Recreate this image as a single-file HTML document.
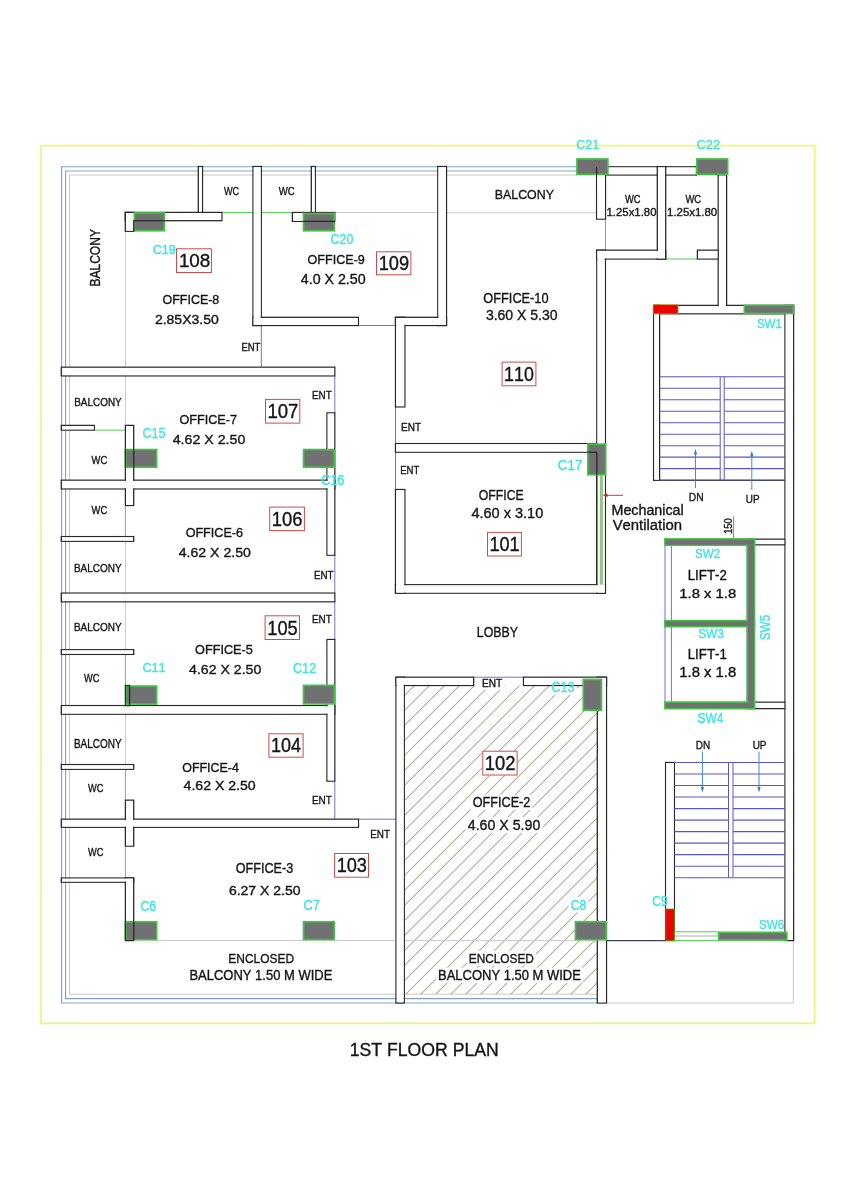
<!DOCTYPE html>
<html><head><meta charset="utf-8"><title>1st Floor Plan</title><style>html,body{margin:0;padding:0;background:#fff;width:849px;height:1200px;overflow:hidden;}body{position:relative;font-family:"Liberation Sans",sans-serif;}</style></head><body>
<div style="position:absolute;left:0;top:0;width:849px;height:1200px;will-change:transform">
<svg width="849" height="1200" viewBox="0 0 849 1200" style="display:block">
<rect x="0" y="0" width="849" height="1200" fill="#ffffff"/>
<rect x="41.0" y="145.6" width="773.7" height="877.8" fill="none" stroke="#eef57f" stroke-width="1.8" />
<polyline points="576.4,166.7 61.6,166.7 61.6,1003.0 597.3,1003.0" stroke="#88a3c2" stroke-width="1.15" fill="none"/>
<polyline points="576.4,171.0 65.6,171.0 65.6,998.6 597.3,998.6" stroke="#88a3c2" stroke-width="1.15" fill="none"/>
<polyline points="576.4,175.0 69.5,175.0 69.5,994.2 597.3,994.2" stroke="#c9c9c9" stroke-width="1.0" fill="none"/>
<polyline points="606.5,1003.0 793.3,1003.0 793.3,940.6" stroke="#c9c9c9" stroke-width="1.0" fill="none"/>
<defs><clipPath id="o2"><rect x="404.3" y="685.5" width="193" height="308.7"/></clipPath></defs>
<g clip-path="url(#o2)">
<line x1="100.0" y1="1000" x2="420.0" y2="680" stroke="#b7aa96" stroke-width="1.05" />
<line x1="115.0" y1="1000" x2="435.0" y2="680" stroke="#b7aa96" stroke-width="1.05" />
<line x1="130.0" y1="1000" x2="450.0" y2="680" stroke="#b7aa96" stroke-width="1.05" />
<line x1="145.0" y1="1000" x2="465.0" y2="680" stroke="#b7aa96" stroke-width="1.05" />
<line x1="160.0" y1="1000" x2="480.0" y2="680" stroke="#b7aa96" stroke-width="1.05" />
<line x1="175.0" y1="1000" x2="495.0" y2="680" stroke="#b7aa96" stroke-width="1.05" />
<line x1="190.0" y1="1000" x2="510.0" y2="680" stroke="#b7aa96" stroke-width="1.05" />
<line x1="205.0" y1="1000" x2="525.0" y2="680" stroke="#b7aa96" stroke-width="1.05" />
<line x1="220.0" y1="1000" x2="540.0" y2="680" stroke="#b7aa96" stroke-width="1.05" />
<line x1="235.0" y1="1000" x2="555.0" y2="680" stroke="#b7aa96" stroke-width="1.05" />
<line x1="250.0" y1="1000" x2="570.0" y2="680" stroke="#b7aa96" stroke-width="1.05" />
<line x1="265.0" y1="1000" x2="585.0" y2="680" stroke="#b7aa96" stroke-width="1.05" />
<line x1="280.0" y1="1000" x2="600.0" y2="680" stroke="#b7aa96" stroke-width="1.05" />
<line x1="295.0" y1="1000" x2="615.0" y2="680" stroke="#b7aa96" stroke-width="1.05" />
<line x1="310.0" y1="1000" x2="630.0" y2="680" stroke="#b7aa96" stroke-width="1.05" />
<line x1="325.0" y1="1000" x2="645.0" y2="680" stroke="#b7aa96" stroke-width="1.05" />
<line x1="340.0" y1="1000" x2="660.0" y2="680" stroke="#b7aa96" stroke-width="1.05" />
<line x1="355.0" y1="1000" x2="675.0" y2="680" stroke="#b7aa96" stroke-width="1.05" />
<line x1="370.0" y1="1000" x2="690.0" y2="680" stroke="#b7aa96" stroke-width="1.05" />
<line x1="385.0" y1="1000" x2="705.0" y2="680" stroke="#b7aa96" stroke-width="1.05" />
<line x1="400.0" y1="1000" x2="720.0" y2="680" stroke="#b7aa96" stroke-width="1.05" />
<line x1="415.0" y1="1000" x2="735.0" y2="680" stroke="#b7aa96" stroke-width="1.05" />
<line x1="430.0" y1="1000" x2="750.0" y2="680" stroke="#b7aa96" stroke-width="1.05" />
<line x1="445.0" y1="1000" x2="765.0" y2="680" stroke="#b7aa96" stroke-width="1.05" />
<line x1="460.0" y1="1000" x2="780.0" y2="680" stroke="#b7aa96" stroke-width="1.05" />
<line x1="475.0" y1="1000" x2="795.0" y2="680" stroke="#b7aa96" stroke-width="1.05" />
<line x1="490.0" y1="1000" x2="810.0" y2="680" stroke="#b7aa96" stroke-width="1.05" />
<line x1="505.0" y1="1000" x2="825.0" y2="680" stroke="#b7aa96" stroke-width="1.05" />
<line x1="520.0" y1="1000" x2="840.0" y2="680" stroke="#b7aa96" stroke-width="1.05" />
<line x1="535.0" y1="1000" x2="855.0" y2="680" stroke="#b7aa96" stroke-width="1.05" />
<line x1="550.0" y1="1000" x2="870.0" y2="680" stroke="#b7aa96" stroke-width="1.05" />
<line x1="565.0" y1="1000" x2="885.0" y2="680" stroke="#b7aa96" stroke-width="1.05" />
<line x1="580.0" y1="1000" x2="900.0" y2="680" stroke="#b7aa96" stroke-width="1.05" />
<line x1="595.0" y1="1000" x2="915.0" y2="680" stroke="#b7aa96" stroke-width="1.05" />
<line x1="85.0" y1="1000" x2="405.0" y2="680" stroke="#b7aa96" stroke-width="1.05" />
<line x1="70.0" y1="1000" x2="390.0" y2="680" stroke="#b7aa96" stroke-width="1.05" />
<rect x="480.0" y="677.3" width="24.6" height="12.8" fill="#ffffff" stroke="none" stroke-width="1.0" />
<rect x="470.6" y="794.8" width="61.8" height="15.2" fill="#ffffff" stroke="none" stroke-width="1.0" />
<rect x="465.4" y="817.2" width="77.1" height="15.9" fill="#ffffff" stroke="none" stroke-width="1.0" />
<rect x="467.0" y="950.8" width="69.0" height="14.9" fill="#ffffff" stroke="none" stroke-width="1.0" />
<rect x="436.4" y="967.7" width="146.7" height="15.2" fill="#ffffff" stroke="none" stroke-width="1.0" />
<rect x="549.5" y="678.5" width="27.2" height="16.3" fill="#ffffff" stroke="none" stroke-width="1.0" />
<rect x="568.6" y="896.8" width="19.7" height="15.7" fill="#ffffff" stroke="none" stroke-width="1.0" />
<rect x="482.3" y="750.7" width="35.3" height="24.8" fill="#ffffff" stroke="none" stroke-width="1.0" />
</g>
<line x1="334.8" y1="212.5" x2="437.8" y2="212.5" stroke="#c9c9c9" stroke-width="1.0" />
<line x1="446.5" y1="212.8" x2="596.6" y2="212.8" stroke="#c9c9c9" stroke-width="1.0" />
<line x1="221.9" y1="212.6" x2="253.0" y2="212.6" stroke="#4fcf4f" stroke-width="1.0" />
<line x1="261.3" y1="212.6" x2="292.4" y2="212.6" stroke="#4fcf4f" stroke-width="1.0" />
<line x1="125.4" y1="231.3" x2="125.4" y2="425.4" stroke="#c9c9c9" stroke-width="1.0" />
<line x1="125.4" y1="541.3" x2="125.4" y2="649.7" stroke="#c9c9c9" stroke-width="1.0" />
<line x1="125.4" y1="714.2" x2="125.4" y2="764.6" stroke="#c9c9c9" stroke-width="1.0" />
<line x1="125.4" y1="505.5" x2="125.4" y2="536.6" stroke="#4fcf4f" stroke-width="1.0" />
<line x1="125.4" y1="654.4" x2="125.4" y2="685.5" stroke="#4fcf4f" stroke-width="1.0" />
<line x1="125.4" y1="769.3" x2="125.4" y2="800.2" stroke="#4fcf4f" stroke-width="1.0" />
<line x1="125.4" y1="846.1" x2="125.4" y2="878.0" stroke="#4fcf4f" stroke-width="1.0" />
<line x1="94.3" y1="430.1" x2="125.4" y2="430.1" stroke="#4fcf4f" stroke-width="1.0" />
<line x1="605.5" y1="219.1" x2="605.5" y2="250.2" stroke="#4fcf4f" stroke-width="1.0" />
<line x1="665.7" y1="259.0" x2="697.4" y2="259.0" stroke="#4fcf4f" stroke-width="1.0" />
<line x1="261.3" y1="325.5" x2="261.3" y2="367.2" stroke="#7474cc" stroke-width="1.0" />
<line x1="358.4" y1="325.5" x2="395.5" y2="325.5" stroke="#7474cc" stroke-width="1.0" />
<line x1="395.5" y1="406.9" x2="395.5" y2="443.6" stroke="#7474cc" stroke-width="1.0" />
<line x1="395.5" y1="452.2" x2="395.5" y2="489.5" stroke="#7474cc" stroke-width="1.0" />
<line x1="334.8" y1="375.9" x2="334.8" y2="412.9" stroke="#7474cc" stroke-width="1.0" />
<line x1="334.8" y1="555.2" x2="334.8" y2="593.1" stroke="#7474cc" stroke-width="1.0" />
<line x1="334.8" y1="601.8" x2="334.8" y2="639.5" stroke="#7474cc" stroke-width="1.0" />
<line x1="334.8" y1="781.1" x2="334.8" y2="819.2" stroke="#7474cc" stroke-width="1.0" />
<line x1="358.5" y1="819.2" x2="396.0" y2="819.2" stroke="#7474cc" stroke-width="1.0" />
<line x1="473.6" y1="677.2" x2="523.5" y2="677.2" stroke="#7474cc" stroke-width="1.0" />
<line x1="157.2" y1="940.6" x2="303.0" y2="940.6" stroke="#c9c9c9" stroke-width="1.0" />
<line x1="334.8" y1="940.6" x2="396.0" y2="940.6" stroke="#c9c9c9" stroke-width="1.0" />
<line x1="404.3" y1="940.6" x2="574.9" y2="940.6" stroke="#c9c9c9" stroke-width="1.0" />
<line x1="606.7" y1="940.6" x2="665.6" y2="940.6" stroke="#3c3c64" stroke-width="1.1" />
<rect x="125.3" y="212.4" width="96.6" height="8.3" fill="none" stroke="#2a2a2a" stroke-width="1.3" />
<rect x="125.3" y="212.4" width="8.5" height="18.9" fill="none" stroke="#2a2a2a" stroke-width="1.3" />
<rect x="198.3" y="166.5" width="4.2" height="45.9" fill="none" stroke="#2a2a2a" stroke-width="1.3" />
<rect x="253.0" y="166.5" width="8.3" height="159.0" fill="none" stroke="#2a2a2a" stroke-width="1.3" />
<rect x="253.0" y="317.3" width="105.4" height="8.2" fill="none" stroke="#2a2a2a" stroke-width="1.3" />
<rect x="311.3" y="166.5" width="4.0" height="46.0" fill="none" stroke="#2a2a2a" stroke-width="1.3" />
<rect x="292.4" y="212.5" width="42.4" height="8.9" fill="none" stroke="#2a2a2a" stroke-width="1.3" />
<rect x="437.8" y="166.5" width="8.7" height="159.0" fill="none" stroke="#2a2a2a" stroke-width="1.3" />
<rect x="395.5" y="317.3" width="51.0" height="8.2" fill="none" stroke="#2a2a2a" stroke-width="1.3" />
<rect x="395.5" y="317.3" width="9.4" height="89.6" fill="none" stroke="#2a2a2a" stroke-width="1.3" />
<rect x="395.5" y="443.6" width="209.9" height="8.6" fill="none" stroke="#2a2a2a" stroke-width="1.3" />
<rect x="596.8" y="250.2" width="8.6" height="343.0" fill="none" stroke="#2a2a2a" stroke-width="1.3" />
<rect x="395.5" y="489.5" width="9.4" height="103.7" fill="none" stroke="#2a2a2a" stroke-width="1.3" />
<rect x="395.5" y="584.7" width="209.9" height="8.5" fill="none" stroke="#2a2a2a" stroke-width="1.3" />
<rect x="605.4" y="166.8" width="90.9" height="8.2" fill="none" stroke="#2a2a2a" stroke-width="1.3" />
<rect x="596.6" y="166.8" width="8.9" height="52.3" fill="none" stroke="#2a2a2a" stroke-width="1.3" />
<rect x="596.8" y="250.2" width="68.9" height="8.8" fill="none" stroke="#2a2a2a" stroke-width="1.3" />
<rect x="657.3" y="166.8" width="8.4" height="92.2" fill="none" stroke="#2a2a2a" stroke-width="1.3" />
<rect x="697.4" y="250.2" width="20.8" height="8.8" fill="none" stroke="#2a2a2a" stroke-width="1.3" />
<rect x="718.2" y="175.0" width="8.4" height="135.0" fill="none" stroke="#2a2a2a" stroke-width="1.3" />
<rect x="653.6" y="305.4" width="140.0" height="8.4" fill="none" stroke="#2a2a2a" stroke-width="1.3" />
<rect x="653.6" y="305.4" width="6.0" height="174.9" fill="none" stroke="#2a2a2a" stroke-width="1.3" />
<rect x="785.0" y="305.4" width="8.6" height="635.2" fill="none" stroke="#2a2a2a" stroke-width="1.3" />
<rect x="754.4" y="539.2" width="30.6" height="5.6" fill="none" stroke="#2a2a2a" stroke-width="1.3" />
<rect x="754.4" y="702.2" width="30.6" height="6.4" fill="none" stroke="#2a2a2a" stroke-width="1.3" />
<rect x="665.6" y="762.5" width="8.8" height="178.1" fill="none" stroke="#2a2a2a" stroke-width="1.3" />
<rect x="396.0" y="677.2" width="8.3" height="325.8" fill="none" stroke="#2a2a2a" stroke-width="1.3" />
<rect x="396.0" y="677.2" width="77.6" height="8.3" fill="none" stroke="#2a2a2a" stroke-width="1.3" />
<rect x="523.5" y="677.2" width="83.0" height="8.3" fill="none" stroke="#2a2a2a" stroke-width="1.3" />
<rect x="597.3" y="677.2" width="9.2" height="325.8" fill="none" stroke="#2a2a2a" stroke-width="1.3" />
<rect x="61.3" y="367.2" width="273.5" height="8.7" fill="none" stroke="#2a2a2a" stroke-width="1.3" />
<rect x="61.3" y="480.2" width="273.5" height="8.7" fill="none" stroke="#2a2a2a" stroke-width="1.3" />
<rect x="61.3" y="593.1" width="273.5" height="8.7" fill="none" stroke="#2a2a2a" stroke-width="1.3" />
<rect x="61.3" y="705.6" width="273.5" height="8.6" fill="none" stroke="#2a2a2a" stroke-width="1.3" />
<rect x="61.3" y="819.2" width="297.2" height="8.1" fill="none" stroke="#2a2a2a" stroke-width="1.3" />
<rect x="327.0" y="412.9" width="7.8" height="142.3" fill="none" stroke="#2a2a2a" stroke-width="1.3" />
<rect x="327.0" y="639.5" width="7.8" height="141.6" fill="none" stroke="#2a2a2a" stroke-width="1.3" />
<rect x="61.3" y="425.4" width="33.0" height="4.7" fill="none" stroke="#2a2a2a" stroke-width="1.3" />
<rect x="125.4" y="425.4" width="8.3" height="80.1" fill="none" stroke="#2a2a2a" stroke-width="1.3" />
<rect x="61.3" y="536.6" width="72.4" height="4.7" fill="none" stroke="#2a2a2a" stroke-width="1.3" />
<rect x="61.3" y="649.7" width="72.4" height="4.7" fill="none" stroke="#2a2a2a" stroke-width="1.3" />
<rect x="61.3" y="764.6" width="72.4" height="4.7" fill="none" stroke="#2a2a2a" stroke-width="1.3" />
<rect x="125.4" y="800.2" width="8.3" height="45.9" fill="none" stroke="#2a2a2a" stroke-width="1.3" />
<rect x="61.3" y="878.0" width="72.4" height="4.2" fill="none" stroke="#2a2a2a" stroke-width="1.3" />
<rect x="125.4" y="878.0" width="8.3" height="62.5" fill="none" stroke="#2a2a2a" stroke-width="1.3" />
<rect x="126.0" y="213.1" width="95.2" height="6.9" fill="#ffffff" stroke="none" stroke-width="1.0" />
<rect x="126.0" y="213.1" width="7.1" height="17.5" fill="#ffffff" stroke="none" stroke-width="1.0" />
<rect x="199.0" y="167.2" width="2.8" height="44.5" fill="#ffffff" stroke="none" stroke-width="1.0" />
<rect x="253.7" y="167.2" width="6.9" height="157.6" fill="#ffffff" stroke="none" stroke-width="1.0" />
<rect x="253.7" y="318.0" width="104.0" height="6.8" fill="#ffffff" stroke="none" stroke-width="1.0" />
<rect x="312.0" y="167.2" width="2.6" height="44.6" fill="#ffffff" stroke="none" stroke-width="1.0" />
<rect x="293.1" y="213.2" width="41.0" height="7.5" fill="#ffffff" stroke="none" stroke-width="1.0" />
<rect x="438.5" y="167.2" width="7.3" height="157.6" fill="#ffffff" stroke="none" stroke-width="1.0" />
<rect x="396.2" y="318.0" width="49.6" height="6.8" fill="#ffffff" stroke="none" stroke-width="1.0" />
<rect x="396.2" y="318.0" width="8.0" height="88.2" fill="#ffffff" stroke="none" stroke-width="1.0" />
<rect x="396.2" y="444.3" width="208.5" height="7.2" fill="#ffffff" stroke="none" stroke-width="1.0" />
<rect x="597.5" y="250.9" width="7.2" height="341.6" fill="#ffffff" stroke="none" stroke-width="1.0" />
<rect x="396.2" y="490.2" width="8.0" height="102.3" fill="#ffffff" stroke="none" stroke-width="1.0" />
<rect x="396.2" y="585.4" width="208.5" height="7.1" fill="#ffffff" stroke="none" stroke-width="1.0" />
<rect x="606.1" y="167.5" width="89.5" height="6.8" fill="#ffffff" stroke="none" stroke-width="1.0" />
<rect x="597.3" y="167.5" width="7.5" height="50.9" fill="#ffffff" stroke="none" stroke-width="1.0" />
<rect x="597.5" y="250.9" width="67.5" height="7.4" fill="#ffffff" stroke="none" stroke-width="1.0" />
<rect x="658.0" y="167.5" width="7.0" height="90.8" fill="#ffffff" stroke="none" stroke-width="1.0" />
<rect x="698.1" y="250.9" width="19.4" height="7.4" fill="#ffffff" stroke="none" stroke-width="1.0" />
<rect x="718.9" y="175.7" width="7.0" height="133.6" fill="#ffffff" stroke="none" stroke-width="1.0" />
<rect x="654.3" y="306.1" width="138.6" height="7.0" fill="#ffffff" stroke="none" stroke-width="1.0" />
<rect x="654.3" y="306.1" width="4.6" height="173.5" fill="#ffffff" stroke="none" stroke-width="1.0" />
<rect x="785.7" y="306.1" width="7.2" height="633.8" fill="#ffffff" stroke="none" stroke-width="1.0" />
<rect x="755.1" y="539.9" width="29.2" height="4.2" fill="#ffffff" stroke="none" stroke-width="1.0" />
<rect x="755.1" y="702.9" width="29.2" height="5.0" fill="#ffffff" stroke="none" stroke-width="1.0" />
<rect x="666.3" y="763.2" width="7.4" height="176.7" fill="#ffffff" stroke="none" stroke-width="1.0" />
<rect x="396.7" y="677.9" width="6.9" height="324.4" fill="#ffffff" stroke="none" stroke-width="1.0" />
<rect x="396.7" y="677.9" width="76.2" height="6.9" fill="#ffffff" stroke="none" stroke-width="1.0" />
<rect x="524.2" y="677.9" width="81.6" height="6.9" fill="#ffffff" stroke="none" stroke-width="1.0" />
<rect x="598.0" y="677.9" width="7.8" height="324.4" fill="#ffffff" stroke="none" stroke-width="1.0" />
<rect x="62.0" y="367.9" width="272.1" height="7.3" fill="#ffffff" stroke="none" stroke-width="1.0" />
<rect x="62.0" y="480.9" width="272.1" height="7.3" fill="#ffffff" stroke="none" stroke-width="1.0" />
<rect x="62.0" y="593.8" width="272.1" height="7.3" fill="#ffffff" stroke="none" stroke-width="1.0" />
<rect x="62.0" y="706.3" width="272.1" height="7.2" fill="#ffffff" stroke="none" stroke-width="1.0" />
<rect x="62.0" y="819.9" width="295.8" height="6.7" fill="#ffffff" stroke="none" stroke-width="1.0" />
<rect x="327.7" y="413.6" width="6.4" height="140.9" fill="#ffffff" stroke="none" stroke-width="1.0" />
<rect x="327.7" y="640.2" width="6.4" height="140.2" fill="#ffffff" stroke="none" stroke-width="1.0" />
<rect x="62.0" y="426.1" width="31.6" height="3.3" fill="#ffffff" stroke="none" stroke-width="1.0" />
<rect x="126.1" y="426.1" width="6.9" height="78.7" fill="#ffffff" stroke="none" stroke-width="1.0" />
<rect x="62.0" y="537.3" width="71.0" height="3.3" fill="#ffffff" stroke="none" stroke-width="1.0" />
<rect x="62.0" y="650.4" width="71.0" height="3.3" fill="#ffffff" stroke="none" stroke-width="1.0" />
<rect x="62.0" y="765.3" width="71.0" height="3.3" fill="#ffffff" stroke="none" stroke-width="1.0" />
<rect x="126.1" y="800.9" width="6.9" height="44.5" fill="#ffffff" stroke="none" stroke-width="1.0" />
<rect x="62.0" y="878.7" width="71.0" height="2.8" fill="#ffffff" stroke="none" stroke-width="1.0" />
<rect x="126.1" y="878.7" width="6.9" height="61.1" fill="#ffffff" stroke="none" stroke-width="1.0" />
<line x1="657.3" y1="166.8" x2="657.3" y2="175.0" stroke="#2a2a2a" stroke-width="1.3" />
<line x1="665.7" y1="166.8" x2="665.7" y2="175.0" stroke="#2a2a2a" stroke-width="1.3" />
<rect x="599.8" y="475.3" width="3.1" height="109.4" fill="#93c585" stroke="none" stroke-width="1.0" />
<line x1="596.8" y1="452.2" x2="596.8" y2="584.7" stroke="#2a2a2a" stroke-width="1.3" />
<line x1="603.5" y1="495.3" x2="623.0" y2="495.3" stroke="#d02020" stroke-width="0.9" />
<polygon points="603.2,495.3 607.5,493.6 607.5,497.0" fill="#d02020"/>
<line x1="659.6" y1="376.8" x2="785.0" y2="376.8" stroke="#5858c4" stroke-width="1.1" />
<line x1="659.6" y1="388.28" x2="720.2" y2="388.28" stroke="#5858c4" stroke-width="1.1" />
<line x1="724.2" y1="388.28" x2="785.0" y2="388.28" stroke="#5858c4" stroke-width="1.1" />
<line x1="659.6" y1="399.76" x2="720.2" y2="399.76" stroke="#5858c4" stroke-width="1.1" />
<line x1="724.2" y1="399.76" x2="785.0" y2="399.76" stroke="#5858c4" stroke-width="1.1" />
<line x1="659.6" y1="411.24" x2="720.2" y2="411.24" stroke="#5858c4" stroke-width="1.1" />
<line x1="724.2" y1="411.24" x2="785.0" y2="411.24" stroke="#5858c4" stroke-width="1.1" />
<line x1="659.6" y1="422.72" x2="720.2" y2="422.72" stroke="#5858c4" stroke-width="1.1" />
<line x1="724.2" y1="422.72" x2="785.0" y2="422.72" stroke="#5858c4" stroke-width="1.1" />
<line x1="659.6" y1="434.2" x2="720.2" y2="434.2" stroke="#5858c4" stroke-width="1.1" />
<line x1="724.2" y1="434.2" x2="785.0" y2="434.2" stroke="#5858c4" stroke-width="1.1" />
<line x1="659.6" y1="445.68" x2="720.2" y2="445.68" stroke="#5858c4" stroke-width="1.1" />
<line x1="724.2" y1="445.68" x2="785.0" y2="445.68" stroke="#5858c4" stroke-width="1.1" />
<line x1="659.6" y1="457.16" x2="720.2" y2="457.16" stroke="#5858c4" stroke-width="1.1" />
<line x1="724.2" y1="457.16" x2="785.0" y2="457.16" stroke="#5858c4" stroke-width="1.1" />
<line x1="659.6" y1="468.64" x2="720.2" y2="468.64" stroke="#5858c4" stroke-width="1.1" />
<line x1="724.2" y1="468.64" x2="785.0" y2="468.64" stroke="#5858c4" stroke-width="1.1" />
<line x1="659.6" y1="480.12" x2="785.0" y2="480.12" stroke="#5858c4" stroke-width="1.1" />
<line x1="720.2" y1="376.6" x2="720.2" y2="480.1" stroke="#5858c4" stroke-width="1.0" />
<line x1="724.2" y1="376.6" x2="724.2" y2="480.1" stroke="#5858c4" stroke-width="1.0" />
<line x1="659.6" y1="480.3" x2="785.0" y2="480.3" stroke="#2a2a2a" stroke-width="0.8" />
<line x1="695.5" y1="451.0" x2="695.5" y2="488.0" stroke="#2f7fd0" stroke-width="0.9" />
<polygon points="695.5,448.8 693.9,454.5 697.1,454.5" fill="#2f7fd0"/>
<line x1="751.8" y1="453.0" x2="751.8" y2="490.0" stroke="#2f7fd0" stroke-width="0.9" />
<polygon points="751.8,450.8 750.2,456.5 753.4,456.5" fill="#2f7fd0"/>
<line x1="674.4" y1="762.5" x2="785.0" y2="762.5" stroke="#5858c4" stroke-width="1.1" />
<line x1="674.4" y1="774.02" x2="728.5" y2="774.02" stroke="#5858c4" stroke-width="1.1" />
<line x1="733.0" y1="774.02" x2="785.0" y2="774.02" stroke="#5858c4" stroke-width="1.1" />
<line x1="674.4" y1="785.54" x2="728.5" y2="785.54" stroke="#5858c4" stroke-width="1.1" />
<line x1="733.0" y1="785.54" x2="785.0" y2="785.54" stroke="#5858c4" stroke-width="1.1" />
<line x1="674.4" y1="797.06" x2="728.5" y2="797.06" stroke="#5858c4" stroke-width="1.1" />
<line x1="733.0" y1="797.06" x2="785.0" y2="797.06" stroke="#5858c4" stroke-width="1.1" />
<line x1="674.4" y1="808.58" x2="728.5" y2="808.58" stroke="#5858c4" stroke-width="1.1" />
<line x1="733.0" y1="808.58" x2="785.0" y2="808.58" stroke="#5858c4" stroke-width="1.1" />
<line x1="674.4" y1="820.1" x2="728.5" y2="820.1" stroke="#5858c4" stroke-width="1.1" />
<line x1="733.0" y1="820.1" x2="785.0" y2="820.1" stroke="#5858c4" stroke-width="1.1" />
<line x1="674.4" y1="831.62" x2="728.5" y2="831.62" stroke="#5858c4" stroke-width="1.1" />
<line x1="733.0" y1="831.62" x2="785.0" y2="831.62" stroke="#5858c4" stroke-width="1.1" />
<line x1="674.4" y1="843.14" x2="728.5" y2="843.14" stroke="#5858c4" stroke-width="1.1" />
<line x1="733.0" y1="843.14" x2="785.0" y2="843.14" stroke="#5858c4" stroke-width="1.1" />
<line x1="674.4" y1="854.66" x2="728.5" y2="854.66" stroke="#5858c4" stroke-width="1.1" />
<line x1="733.0" y1="854.66" x2="785.0" y2="854.66" stroke="#5858c4" stroke-width="1.1" />
<line x1="674.4" y1="866.18" x2="728.5" y2="866.18" stroke="#5858c4" stroke-width="1.1" />
<line x1="733.0" y1="866.18" x2="785.0" y2="866.18" stroke="#5858c4" stroke-width="1.1" />
<line x1="674.4" y1="877.7" x2="785.0" y2="877.7" stroke="#5858c4" stroke-width="1.1" />
<line x1="728.5" y1="762.5" x2="728.5" y2="877.7" stroke="#5858c4" stroke-width="1.0" />
<line x1="733.0" y1="762.5" x2="733.0" y2="877.7" stroke="#5858c4" stroke-width="1.0" />
<line x1="702.4" y1="751.5" x2="702.4" y2="790.0" stroke="#2f7fd0" stroke-width="0.9" />
<polygon points="702.4,792.6 700.8,786.9 704.0,786.9" fill="#2f7fd0"/>
<line x1="759.0" y1="751.5" x2="759.0" y2="790.0" stroke="#2f7fd0" stroke-width="0.9" />
<polygon points="759.0,792.6 757.4,786.9 760.6,786.9" fill="#2f7fd0"/>
<line x1="665.0" y1="545.0" x2="665.0" y2="702.0" stroke="#7474cc" stroke-width="1.0" />
<line x1="671.4" y1="545.0" x2="671.4" y2="702.0" stroke="#7474cc" stroke-width="1.0" />
<rect x="664.6" y="538.6" width="90.2" height="7.0" fill="#717073" stroke="none" stroke-width="1.0" />
<rect x="746.8" y="538.6" width="8.0" height="170.4" fill="#717073" stroke="none" stroke-width="1.0" />
<rect x="664.6" y="620.3" width="90.2" height="6.7" fill="#717073" stroke="none" stroke-width="1.0" />
<rect x="664.6" y="701.8" width="90.2" height="7.2" fill="#717073" stroke="none" stroke-width="1.0" />
<rect x="664.9" y="538.9" width="89.6" height="6.4" fill="none" stroke="#44c444" stroke-width="1.6" />
<rect x="747.0999999999999" y="538.9" width="7.4" height="169.8" fill="none" stroke="#44c444" stroke-width="1.6" />
<rect x="664.9" y="620.5999999999999" width="89.6" height="6.1" fill="none" stroke="#44c444" stroke-width="1.6" />
<rect x="664.9" y="702.0999999999999" width="89.6" height="6.6" fill="none" stroke="#44c444" stroke-width="1.6" />
<rect x="665.75" y="539.75" width="87.9" height="4.7" fill="#717073" stroke="none" stroke-width="1.0" />
<rect x="747.95" y="539.75" width="5.7" height="168.1" fill="#717073" stroke="none" stroke-width="1.0" />
<rect x="665.75" y="621.45" width="87.9" height="4.4" fill="#717073" stroke="none" stroke-width="1.0" />
<rect x="665.75" y="702.95" width="87.9" height="4.9" fill="#717073" stroke="none" stroke-width="1.0" />
<line x1="733.6" y1="515.8" x2="733.6" y2="544.0" stroke="#8a7a5a" stroke-width="0.9" />
<rect x="674.4" y="931.8" width="43.9" height="8.8" fill="#ffffff" stroke="#4fcf4f" stroke-width="1.0" />
<line x1="674.4" y1="936.0" x2="718.3" y2="936.0" stroke="#8fb08a" stroke-width="0.9" />
<rect x="134.35" y="212.95" width="30.0" height="17.8" fill="#717073" stroke="#44c444" stroke-width="1.7" />
<rect x="303.55" y="213.55" width="30.7" height="17.2" fill="#717073" stroke="#44c444" stroke-width="1.7" />
<rect x="576.95" y="158.95" width="30.9" height="15.5" fill="#717073" stroke="#44c444" stroke-width="1.7" />
<rect x="696.75" y="158.95" width="30.9" height="15.5" fill="#717073" stroke="#44c444" stroke-width="1.7" />
<rect x="125.95" y="449.55" width="30.7" height="17.7" fill="#717073" stroke="#44c444" stroke-width="1.7" />
<rect x="303.55" y="449.55" width="30.7" height="17.7" fill="#717073" stroke="#44c444" stroke-width="1.7" />
<rect x="587.85" y="444.15" width="17.8" height="30.6" fill="#717073" stroke="#44c444" stroke-width="1.7" />
<rect x="125.95" y="686.05" width="30.7" height="18.0" fill="#717073" stroke="#44c444" stroke-width="1.7" />
<rect x="303.55" y="685.35" width="30.7" height="18.5" fill="#717073" stroke="#44c444" stroke-width="1.7" />
<rect x="583.25" y="679.45" width="18.2" height="30.9" fill="#717073" stroke="#44c444" stroke-width="1.7" />
<rect x="125.95" y="921.75" width="30.7" height="18.0" fill="#717073" stroke="#44c444" stroke-width="1.7" />
<rect x="303.55" y="921.75" width="30.7" height="18.0" fill="#717073" stroke="#44c444" stroke-width="1.7" />
<rect x="575.45" y="921.75" width="30.7" height="18.0" fill="#717073" stroke="#44c444" stroke-width="1.7" />
<rect x="744.35" y="305.35" width="49.1" height="8.1" fill="#717073" stroke="#44c444" stroke-width="1.7" />
<rect x="718.85" y="932.35" width="68.0" height="7.7" fill="#717073" stroke="#44c444" stroke-width="1.7" />
<rect x="653.6" y="304.8" width="24.4" height="9.1" fill="#ee0000" stroke="#d4a000" stroke-width="0.6" />
<rect x="665.8" y="909.0" width="8.5" height="31.6" fill="#ee0000" stroke="#6a9a00" stroke-width="0.8" />
<line x1="133.8" y1="220.7" x2="164.9" y2="220.7" stroke="#2a2a2a" stroke-width="1.3" />
<line x1="133.8" y1="220.7" x2="133.8" y2="231.3" stroke="#2a2a2a" stroke-width="1.3" />
<line x1="303.0" y1="221.4" x2="334.8" y2="221.4" stroke="#2a2a2a" stroke-width="1.3" />
<line x1="596.6" y1="166.8" x2="596.6" y2="175.0" stroke="#2a2a2a" stroke-width="1.3" />
<line x1="587.3" y1="452.2" x2="596.8" y2="452.2" stroke="#2a2a2a" stroke-width="1.3" />
<line x1="596.8" y1="452.2" x2="596.8" y2="475.3" stroke="#2a2a2a" stroke-width="1.3" />
<rect x="125.4" y="685.5" width="4.2" height="20.1" fill="none" stroke="#2a2a2a" stroke-width="1.3" />
<line x1="133.7" y1="921.2" x2="133.7" y2="940.5" stroke="#2a2a2a" stroke-width="1.3" />
<line x1="125.4" y1="921.2" x2="125.4" y2="940.5" stroke="#2a2a2a" stroke-width="1.3" />
<line x1="125.4" y1="940.5" x2="133.7" y2="940.5" stroke="#2a2a2a" stroke-width="1.3" />
<line x1="125.4" y1="449.0" x2="125.4" y2="467.8" stroke="#2a2a2a" stroke-width="1.3" />
<line x1="133.7" y1="449.0" x2="133.7" y2="467.8" stroke="#2a2a2a" stroke-width="1.3" />
<rect x="176.5" y="248.8" width="34.9" height="23.7" fill="none" stroke="#cc4c4c" stroke-width="1.0" />
<rect x="376.5" y="251.8" width="34.4" height="23.0" fill="none" stroke="#cc4c4c" stroke-width="1.0" />
<rect x="502.1" y="362.1" width="33.8" height="23.7" fill="none" stroke="#cc4c4c" stroke-width="1.0" />
<rect x="265.5" y="399.4" width="34.3" height="23.7" fill="none" stroke="#cc4c4c" stroke-width="1.0" />
<rect x="269.7" y="507.1" width="34.7" height="23.5" fill="none" stroke="#cc4c4c" stroke-width="1.0" />
<rect x="487.5" y="532.4" width="33.9" height="23.6" fill="none" stroke="#cc4c4c" stroke-width="1.0" />
<rect x="265.1" y="615.8" width="34.4" height="23.7" fill="none" stroke="#cc4c4c" stroke-width="1.0" />
<rect x="268.9" y="733.8" width="34.2" height="23.4" fill="none" stroke="#cc4c4c" stroke-width="1.0" />
<rect x="482.8" y="751.2" width="34.3" height="23.8" fill="none" stroke="#cc4c4c" stroke-width="1.0" />
<rect x="334.6" y="853.5" width="33.9" height="23.7" fill="none" stroke="#cc4c4c" stroke-width="1.0" />
<g font-family="Liberation Sans, sans-serif" stroke-width="0.35" style="font-kerning:none">
<text x="223.99" y="194.86" font-size="11.37" fill="#141414" stroke="#141414" textLength="15.14" lengthAdjust="spacingAndGlyphs">WC</text>
<text x="278.78" y="194.67" font-size="11.09" fill="#141414" stroke="#141414" textLength="15.96" lengthAdjust="spacingAndGlyphs">WC</text>
<text x="494.71" y="198.94" font-size="13.63" fill="#141414" stroke="#141414" textLength="59.24" lengthAdjust="spacingAndGlyphs">BALCONY</text>
<text x="624.88" y="202.57" font-size="10.80" fill="#141414" stroke="#141414" textLength="15.55" lengthAdjust="spacingAndGlyphs">WC</text>
<text x="606.56" y="216.07" font-size="10.95" fill="#141414" stroke="#141414" textLength="49.96" lengthAdjust="spacingAndGlyphs">1.25x1.80</text>
<text x="685.48" y="202.57" font-size="10.80" fill="#141414" stroke="#141414" textLength="15.65" lengthAdjust="spacingAndGlyphs">WC</text>
<text x="667.06" y="216.07" font-size="10.95" fill="#141414" stroke="#141414" textLength="50.17" lengthAdjust="spacingAndGlyphs">1.25x1.80</text>
<text transform="translate(100.14,286.56) rotate(-90)" x="0" y="0" font-size="13.77" fill="#141414" stroke="#141414" textLength="57.50" lengthAdjust="spacingAndGlyphs">BALCONY</text>
<text x="162.53" y="303.86" font-size="12.08" fill="#141414" stroke="#141414" textLength="56.78" lengthAdjust="spacingAndGlyphs">OFFICE-8</text>
<text x="154.92" y="323.55" font-size="12.50" fill="#141414" stroke="#141414" textLength="63.80" lengthAdjust="spacingAndGlyphs">2.85X3.50</text>
<text x="307.53" y="263.74" font-size="13.35" fill="#141414" stroke="#141414" textLength="57.34" lengthAdjust="spacingAndGlyphs">OFFICE-9</text>
<text x="300.80" y="284.24" font-size="14.05" fill="#141414" stroke="#141414" textLength="64.83" lengthAdjust="spacingAndGlyphs">4.0 X 2.50</text>
<text x="483.32" y="302.54" font-size="13.77" fill="#141414" stroke="#141414" textLength="65.25" lengthAdjust="spacingAndGlyphs">OFFICE-10</text>
<text x="485.89" y="319.63" font-size="14.62" fill="#141414" stroke="#141414" textLength="71.73" lengthAdjust="spacingAndGlyphs">3.60 X 5.30</text>
<text x="241.45" y="350.77" font-size="10.68" fill="#141414" stroke="#141414" textLength="18.94" lengthAdjust="spacingAndGlyphs">ENT</text>
<text x="74.21" y="405.77" font-size="11.09" fill="#141414" stroke="#141414" textLength="47.48" lengthAdjust="spacingAndGlyphs">BALCONY</text>
<text x="179.43" y="424.35" font-size="12.64" fill="#141414" stroke="#141414" textLength="57.48" lengthAdjust="spacingAndGlyphs">OFFICE-7</text>
<text x="172.70" y="444.14" font-size="13.49" fill="#141414" stroke="#141414" textLength="72.63" lengthAdjust="spacingAndGlyphs">4.62 X 2.50</text>
<text x="312.01" y="399.07" font-size="11.41" fill="#141414" stroke="#141414" textLength="19.79" lengthAdjust="spacingAndGlyphs">ENT</text>
<text x="401.10" y="430.88" font-size="10.83" fill="#141414" stroke="#141414" textLength="20.00" lengthAdjust="spacingAndGlyphs">ENT</text>
<text x="400.24" y="473.97" font-size="10.83" fill="#141414" stroke="#141414" textLength="19.16" lengthAdjust="spacingAndGlyphs">ENT</text>
<text x="91.58" y="463.77" font-size="10.52" fill="#141414" stroke="#141414" textLength="15.65" lengthAdjust="spacingAndGlyphs">WC</text>
<text x="91.58" y="513.68" font-size="10.10" fill="#141414" stroke="#141414" textLength="15.65" lengthAdjust="spacingAndGlyphs">WC</text>
<text x="185.63" y="537.15" font-size="12.64" fill="#141414" stroke="#141414" textLength="57.40" lengthAdjust="spacingAndGlyphs">OFFICE-6</text>
<text x="178.70" y="556.55" font-size="12.92" fill="#141414" stroke="#141414" textLength="72.23" lengthAdjust="spacingAndGlyphs">4.62 X 2.50</text>
<text x="73.90" y="572.36" font-size="11.79" fill="#141414" stroke="#141414" textLength="47.79" lengthAdjust="spacingAndGlyphs">BALCONY</text>
<text x="313.92" y="578.58" font-size="11.12" fill="#141414" stroke="#141414" textLength="19.58" lengthAdjust="spacingAndGlyphs">ENT</text>
<text x="73.90" y="631.26" font-size="11.79" fill="#141414" stroke="#141414" textLength="47.79" lengthAdjust="spacingAndGlyphs">BALCONY</text>
<text x="312.01" y="622.58" font-size="11.41" fill="#141414" stroke="#141414" textLength="19.79" lengthAdjust="spacingAndGlyphs">ENT</text>
<text x="195.02" y="653.95" font-size="12.64" fill="#141414" stroke="#141414" textLength="57.78" lengthAdjust="spacingAndGlyphs">OFFICE-5</text>
<text x="189.10" y="674.15" font-size="13.21" fill="#141414" stroke="#141414" textLength="72.23" lengthAdjust="spacingAndGlyphs">4.62 X 2.50</text>
<text x="84.08" y="682.17" font-size="10.80" fill="#141414" stroke="#141414" textLength="15.34" lengthAdjust="spacingAndGlyphs">WC</text>
<text x="73.90" y="748.26" font-size="12.08" fill="#141414" stroke="#141414" textLength="47.79" lengthAdjust="spacingAndGlyphs">BALCONY</text>
<text x="182.24" y="772.45" font-size="12.36" fill="#141414" stroke="#141414" textLength="56.70" lengthAdjust="spacingAndGlyphs">OFFICE-4</text>
<text x="183.60" y="790.15" font-size="12.64" fill="#141414" stroke="#141414" textLength="72.02" lengthAdjust="spacingAndGlyphs">4.62 X 2.50</text>
<text x="312.01" y="803.78" font-size="11.41" fill="#141414" stroke="#141414" textLength="19.79" lengthAdjust="spacingAndGlyphs">ENT</text>
<text x="88.08" y="791.87" font-size="11.09" fill="#141414" stroke="#141414" textLength="15.34" lengthAdjust="spacingAndGlyphs">WC</text>
<text x="88.08" y="855.97" font-size="11.09" fill="#141414" stroke="#141414" textLength="15.34" lengthAdjust="spacingAndGlyphs">WC</text>
<text x="370.21" y="837.98" font-size="10.83" fill="#141414" stroke="#141414" textLength="19.79" lengthAdjust="spacingAndGlyphs">ENT</text>
<text x="235.73" y="872.64" font-size="13.77" fill="#141414" stroke="#141414" textLength="57.50" lengthAdjust="spacingAndGlyphs">OFFICE-3</text>
<text x="228.91" y="895.05" font-size="12.92" fill="#141414" stroke="#141414" textLength="71.61" lengthAdjust="spacingAndGlyphs">6.27 X 2.50</text>
<text x="228.34" y="962.75" font-size="13.21" fill="#141414" stroke="#141414" textLength="65.80" lengthAdjust="spacingAndGlyphs">ENCLOSED</text>
<text x="189.46" y="979.74" font-size="13.77" fill="#141414" stroke="#141414" textLength="142.87" lengthAdjust="spacingAndGlyphs">BALCONY 1.50 M WIDE</text>
<text x="478.85" y="500.03" font-size="14.48" fill="#141414" stroke="#141414" textLength="44.86" lengthAdjust="spacingAndGlyphs">OFFICE</text>
<text x="471.39" y="518.43" font-size="14.62" fill="#141414" stroke="#141414" textLength="71.85" lengthAdjust="spacingAndGlyphs">4.60 x 3.10</text>
<text x="476.81" y="636.54" font-size="13.91" fill="#141414" stroke="#141414" textLength="41.13" lengthAdjust="spacingAndGlyphs">LOBBY</text>
<text x="481.90" y="687.38" font-size="10.68" fill="#141414" stroke="#141414" textLength="20.21" lengthAdjust="spacingAndGlyphs">ENT</text>
<text x="472.73" y="807.14" font-size="13.77" fill="#141414" stroke="#141414" textLength="57.58" lengthAdjust="spacingAndGlyphs">OFFICE-2</text>
<text x="467.80" y="830.23" font-size="14.76" fill="#141414" stroke="#141414" textLength="72.53" lengthAdjust="spacingAndGlyphs">4.60 X 5.90</text>
<text x="468.75" y="962.84" font-size="13.35" fill="#141414" stroke="#141414" textLength="65.09" lengthAdjust="spacingAndGlyphs">ENCLOSED</text>
<text x="438.06" y="980.04" font-size="13.77" fill="#141414" stroke="#141414" textLength="142.87" lengthAdjust="spacingAndGlyphs">BALCONY 1.50 M WIDE</text>
<text x="611.55" y="515.24" font-size="14.09" fill="#141414" stroke="#141414" textLength="72.18" lengthAdjust="spacingAndGlyphs">Mechanical</text>
<text x="612.66" y="530.03" font-size="14.64" fill="#141414" stroke="#141414" textLength="69.38" lengthAdjust="spacingAndGlyphs">Ventilation</text>
<text x="688.78" y="500.77" font-size="11.56" fill="#141414" stroke="#141414" textLength="14.83" lengthAdjust="spacingAndGlyphs">DN</text>
<text x="745.86" y="503.06" font-size="11.39" fill="#141414" stroke="#141414" textLength="13.73" lengthAdjust="spacingAndGlyphs">UP</text>
<text x="687.74" y="580.18" font-size="13.96" fill="#141414" stroke="#141414" textLength="39.11" lengthAdjust="spacingAndGlyphs">LIFT-2</text>
<text x="679.29" y="597.75" font-size="12.78" fill="#141414" stroke="#141414" textLength="56.93" lengthAdjust="spacingAndGlyphs">1.8 x 1.8</text>
<text x="687.74" y="659.18" font-size="14.17" fill="#141414" stroke="#141414" textLength="39.09" lengthAdjust="spacingAndGlyphs">LIFT-1</text>
<text x="679.29" y="676.64" font-size="13.77" fill="#141414" stroke="#141414" textLength="56.93" lengthAdjust="spacingAndGlyphs">1.8 x 1.8</text>
<text x="695.81" y="749.08" font-size="11.56" fill="#141414" stroke="#141414" textLength="14.38" lengthAdjust="spacingAndGlyphs">DN</text>
<text x="752.66" y="748.96" font-size="11.39" fill="#141414" stroke="#141414" textLength="13.84" lengthAdjust="spacingAndGlyphs">UP</text>
<text transform="translate(732.47,534.10) rotate(-90)" x="0" y="0" font-size="10.38" fill="#141414" stroke="#141414" textLength="15.84" lengthAdjust="spacingAndGlyphs">150</text>
<text x="349.78" y="1055.80" font-size="17.73" fill="#141414" stroke="#141414" textLength="148.93" lengthAdjust="spacingAndGlyphs">1ST FLOOR PLAN</text>
<text x="178.89" y="266.99" font-size="19.14" fill="#141414" stroke="#141414" textLength="31.51" lengthAdjust="spacingAndGlyphs">108</text>
<text x="378.64" y="270.38" font-size="19.99" fill="#141414" stroke="#141414" textLength="30.40" lengthAdjust="spacingAndGlyphs">109</text>
<text x="504.06" y="380.88" font-size="20.41" fill="#141414" stroke="#141414" textLength="29.81" lengthAdjust="spacingAndGlyphs">110</text>
<text x="267.40" y="417.68" font-size="20.13" fill="#141414" stroke="#141414" textLength="31.11" lengthAdjust="spacingAndGlyphs">107</text>
<text x="271.82" y="525.78" font-size="20.27" fill="#141414" stroke="#141414" textLength="30.76" lengthAdjust="spacingAndGlyphs">106</text>
<text x="489.45" y="550.98" font-size="19.99" fill="#141414" stroke="#141414" textLength="30.21" lengthAdjust="spacingAndGlyphs">101</text>
<text x="267.23" y="634.58" font-size="20.27" fill="#141414" stroke="#141414" textLength="30.51" lengthAdjust="spacingAndGlyphs">105</text>
<text x="271.05" y="752.38" font-size="19.99" fill="#141414" stroke="#141414" textLength="30.05" lengthAdjust="spacingAndGlyphs">104</text>
<text x="484.82" y="769.98" font-size="20.27" fill="#141414" stroke="#141414" textLength="30.68" lengthAdjust="spacingAndGlyphs">102</text>
<text x="336.64" y="872.18" font-size="20.27" fill="#141414" stroke="#141414" textLength="30.33" lengthAdjust="spacingAndGlyphs">103</text>
<text x="576.29" y="148.75" font-size="12.78" fill="#3fe3e3" stroke="#3fe3e3" textLength="22.89" lengthAdjust="spacingAndGlyphs">C21</text>
<text x="696.47" y="148.75" font-size="13.06" fill="#3fe3e3" stroke="#3fe3e3" textLength="23.55" lengthAdjust="spacingAndGlyphs">C22</text>
<text x="152.79" y="253.76" font-size="11.93" fill="#3fe3e3" stroke="#3fe3e3" textLength="22.98" lengthAdjust="spacingAndGlyphs">C19</text>
<text x="330.60" y="243.74" font-size="13.91" fill="#3fe3e3" stroke="#3fe3e3" textLength="22.66" lengthAdjust="spacingAndGlyphs">C20</text>
<text x="756.90" y="327.95" font-size="12.64" fill="#3fe3e3" stroke="#3fe3e3" textLength="24.93" lengthAdjust="spacingAndGlyphs">SW1</text>
<text x="142.38" y="437.82" font-size="15.47" fill="#3fe3e3" stroke="#3fe3e3" textLength="23.22" lengthAdjust="spacingAndGlyphs">C15</text>
<text x="321.18" y="484.94" font-size="13.77" fill="#3fe3e3" stroke="#3fe3e3" textLength="23.25" lengthAdjust="spacingAndGlyphs">C16</text>
<text x="557.85" y="469.93" font-size="14.48" fill="#3fe3e3" stroke="#3fe3e3" textLength="24.50" lengthAdjust="spacingAndGlyphs">C17</text>
<text x="694.90" y="557.85" font-size="13.21" fill="#3fe3e3" stroke="#3fe3e3" textLength="25.27" lengthAdjust="spacingAndGlyphs">SW2</text>
<text x="698.19" y="638.24" font-size="13.35" fill="#3fe3e3" stroke="#3fe3e3" textLength="25.71" lengthAdjust="spacingAndGlyphs">SW3</text>
<text transform="translate(769.63,640.31) rotate(-90)" x="0" y="0" font-size="14.62" fill="#3fe3e3" stroke="#3fe3e3" textLength="25.58" lengthAdjust="spacingAndGlyphs">SW5</text>
<text x="697.48" y="722.74" font-size="13.77" fill="#3fe3e3" stroke="#3fe3e3" textLength="26.05" lengthAdjust="spacingAndGlyphs">SW4</text>
<text x="142.38" y="671.94" font-size="13.63" fill="#3fe3e3" stroke="#3fe3e3" textLength="23.32" lengthAdjust="spacingAndGlyphs">C11</text>
<text x="292.88" y="673.13" font-size="14.48" fill="#3fe3e3" stroke="#3fe3e3" textLength="23.34" lengthAdjust="spacingAndGlyphs">C12</text>
<text x="551.59" y="691.93" font-size="15.32" fill="#3fe3e3" stroke="#3fe3e3" textLength="22.93" lengthAdjust="spacingAndGlyphs">C13</text>
<text x="140.51" y="910.84" font-size="13.77" fill="#3fe3e3" stroke="#3fe3e3" textLength="15.61" lengthAdjust="spacingAndGlyphs">C6</text>
<text x="303.48" y="909.64" font-size="13.77" fill="#3fe3e3" stroke="#3fe3e3" textLength="16.23" lengthAdjust="spacingAndGlyphs">C7</text>
<text x="570.71" y="909.63" font-size="14.48" fill="#3fe3e3" stroke="#3fe3e3" textLength="15.38" lengthAdjust="spacingAndGlyphs">C8</text>
<text x="652.20" y="906.13" font-size="15.32" fill="#3fe3e3" stroke="#3fe3e3" textLength="15.65" lengthAdjust="spacingAndGlyphs">C9</text>
<text x="758.89" y="929.44" font-size="13.49" fill="#3fe3e3" stroke="#3fe3e3" textLength="25.50" lengthAdjust="spacingAndGlyphs">SW6</text>
</g>
</svg>
</div>
</body></html>
